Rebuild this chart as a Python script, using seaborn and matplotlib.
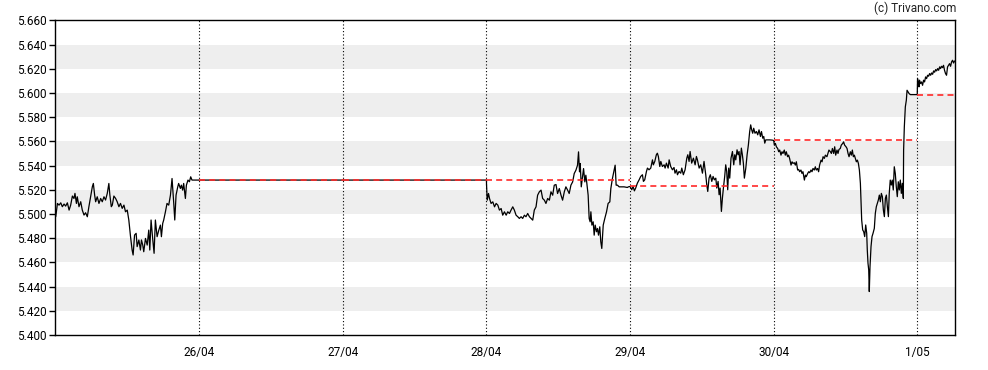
import numpy as np
import pandas as pd
import matplotlib
matplotlib.use("Agg")
import matplotlib.pyplot as plt
from matplotlib.ticker import FormatStrFormatter
import seaborn as sns

# ---------------- data ----------------
day_labels = ["26/04", "27/04", "28/04", "29/04", "30/04", "1/05"]
day_pos = [1, 2, 3, 4, 5, 6]

# 25/04 (day offset 0)
d25_frac = [0.000,0.012,0.023,0.035,0.046,0.058,0.069,0.081,0.093,0.104,0.116,0.127,0.134,0.144,0.150,0.162,0.174,0.185,0.197,0.208,
            0.220,0.231,0.243,0.255,0.262,0.271,0.278,0.289,0.301,0.313,0.324,0.336,0.347,0.359,0.370,0.377,0.387,0.394,0.405,0.417,
            0.428,0.440,0.451,0.463,0.475,0.486,0.498,0.509,0.521,0.532,0.539,0.549,0.560,0.567,0.579,0.590,0.597,0.606,0.613,0.625,
            0.637,0.648,0.655,0.664,0.676,0.685,0.694,0.706,0.718,0.729,0.736,0.745,0.752,0.764,0.775,0.787,0.799,0.810,0.822,0.829,
            0.838,0.850,0.856,0.868,0.875,0.884,0.891,0.903,0.910,0.921,0.931,0.940,0.949]
d25_price = [5.4977,5.5087,5.5073,5.5092,5.5060,5.5082,5.5065,5.5092,5.5032,5.5073,5.5148,5.5128,5.5170,5.5087,5.5142,5.5060,5.5101,5.5032,5.4991,5.5010,
             5.4977,5.5060,5.5142,5.5225,5.5252,5.5156,5.5101,5.5142,5.5087,5.5128,5.5101,5.5142,5.5115,5.5170,5.5252,5.5156,5.5060,5.5073,5.5148,5.5128,
             5.5101,5.5060,5.5087,5.5046,5.5073,5.5018,5.5032,5.4950,5.4812,5.4702,5.4661,5.4826,5.4840,5.4730,5.4785,5.4702,5.4785,5.4743,5.4688,5.4798,
             5.4743,5.4867,5.4702,5.4950,5.4785,5.4675,5.4950,5.4812,5.4867,5.4908,5.4812,5.4922,5.4950,5.5018,5.5087,5.5073,5.5156,5.5293,5.5087,5.4950,
             5.5156,5.5225,5.5252,5.5211,5.5238,5.5197,5.5252,5.5128,5.5238,5.5280,5.5266,5.5307,5.5280]

# last close carried over the weekend up to 28/04 00:00
carry_t = [3.0]
carry_price = [5.528]

# 28/04 (day offset 3)
d28_frac = [0.000,0.005,0.014,0.021,0.032,0.044,0.056,0.067,0.079,0.090,0.102,0.113,0.125,0.137,0.148,0.160,0.171,0.183,0.194,0.206,
            0.218,0.229,0.241,0.252,0.264,0.275,0.287,0.299,0.310,0.322,0.333,0.345,0.356,0.368,0.380,0.391,0.403,0.414,0.426,0.438,
            0.449,0.461,0.472,0.484,0.495,0.507,0.519,0.530,0.542,0.553,0.565,0.576,0.588,0.600,0.611,0.623,0.634,0.641,0.648,0.653,
            0.660,0.669,0.676,0.685,0.692,0.699,0.708,0.715,0.722,0.727,0.734,0.743,0.750,0.757,0.766,0.773,0.780,0.789,0.796,0.803,
            0.813,0.824,0.836,0.847,0.859,0.866,0.877,0.889,0.896,0.903,0.912,0.924,0.935,0.958,0.981,0.988]
d28_price = [5.5252,5.5114,5.5169,5.5128,5.5087,5.5100,5.5059,5.5087,5.5073,5.5032,5.5045,5.4990,5.5018,5.4990,5.5018,5.5004,5.5032,5.5059,5.5032,5.4990,
             5.4977,5.4963,5.4977,5.4963,5.4990,5.4977,5.5004,5.4977,5.4963,5.4949,5.5032,5.5059,5.5155,5.5183,5.5197,5.5128,5.5114,5.5087,5.5128,5.5114,
             5.5183,5.5155,5.5238,5.5243,5.5169,5.5210,5.5155,5.5114,5.5183,5.5224,5.5197,5.5169,5.5238,5.5265,5.5334,5.5362,5.5403,5.5513,5.5348,5.5417,
             5.5224,5.5307,5.5375,5.5265,5.5320,5.5252,5.5155,5.4963,5.4935,5.5018,5.4908,5.4935,5.4825,5.4908,5.4853,5.4880,5.4825,5.4894,5.4770,5.4715,
             5.4908,5.4963,5.5018,5.5087,5.5100,5.5210,5.5293,5.5362,5.5403,5.5238,5.5238,5.5224,5.5224,5.5224,5.5219,5.5224]

# 29/04 (day offset 4)
d29_frac = [0.000,0.012,0.021,0.030,0.039,0.051,0.063,0.074,0.086,0.093,0.102,0.114,0.121,0.132,0.144,0.156,0.162,0.172,0.183,0.190,
            0.197,0.207,0.214,0.225,0.237,0.244,0.253,0.265,0.272,0.283,0.295,0.306,0.313,0.323,0.330,0.341,0.353,0.360,0.371,0.383,
            0.395,0.402,0.411,0.418,0.429,0.441,0.453,0.462,0.469,0.481,0.492,0.504,0.515,0.527,0.534,0.541,0.550,0.559,0.569,0.578,
            0.587,0.597,0.604,0.613,0.620,0.627,0.636,0.643,0.650,0.659,0.666,0.673,0.680,0.687,0.694,0.703,0.713,0.722,0.729,0.736,
            0.745,0.752,0.759,0.766,0.775,0.782,0.789,0.796,0.806,0.815,0.824,0.833,0.840,0.847,0.854,0.861,0.870,0.880,0.889,0.898,
            0.908,0.915,0.924,0.931,0.938,0.945,0.956,0.973,0.991]
d29_price = [5.5227,5.5200,5.5227,5.5191,5.5214,5.5255,5.5282,5.5310,5.5324,5.5269,5.5282,5.5351,5.5379,5.5365,5.5379,5.5447,5.5406,5.5434,5.5489,5.5502,
             5.5475,5.5392,5.5434,5.5392,5.5406,5.5379,5.5420,5.5379,5.5447,5.5392,5.5365,5.5384,5.5337,5.5365,5.5324,5.5351,5.5337,5.5379,5.5324,5.5365,
             5.5461,5.5489,5.5434,5.5516,5.5420,5.5461,5.5406,5.5475,5.5447,5.5379,5.5406,5.5337,5.5434,5.5324,5.5241,5.5186,5.5296,5.5324,5.5269,5.5310,
             5.5282,5.5296,5.5214,5.5269,5.5159,5.5214,5.5021,5.5131,5.5214,5.5310,5.5406,5.5351,5.5200,5.5379,5.5296,5.5461,5.5516,5.5406,5.5489,5.5447,
             5.5530,5.5489,5.5516,5.5406,5.5544,5.5489,5.5420,5.5296,5.5379,5.5489,5.5571,5.5681,5.5736,5.5695,5.5667,5.5708,5.5667,5.5681,5.5654,5.5695,
             5.5640,5.5681,5.5626,5.5640,5.5585,5.5612,5.5612,5.5612,5.5610]

# 30/04 (day offset 5)
d30_frac = [0.000,0.005,0.012,0.019,0.028,0.035,0.042,0.051,0.058,0.065,0.074,0.081,0.088,0.097,0.104,0.111,0.121,0.128,0.135,0.144,
            0.151,0.158,0.167,0.174,0.181,0.190,0.197,0.204,0.214,0.221,0.227,0.237,0.244,0.251,0.260,0.267,0.274,0.283,0.290,0.297,
            0.306,0.313,0.320,0.330,0.337,0.344,0.353,0.360,0.371,0.378,0.385,0.395,0.402,0.409,0.418,0.425,0.432,0.441,0.448,0.455,
            0.464,0.471,0.481,0.487,0.494,0.504,0.511,0.518,0.525,0.534,0.541,0.548,0.555,0.562,0.569,0.576,0.583,0.590,0.597,0.604,
            0.608,0.613,0.620,0.627,0.634,0.641,0.648,0.652,0.657,0.662,0.666,0.671,0.678,0.685,0.692,0.701,0.708,0.715,0.722,0.729,
            0.736,0.743,0.750,0.757,0.764,0.771,0.778,0.785,0.792,0.799,0.805,0.812,0.819,0.826,0.833,0.840,0.847,0.854,0.861,0.868,
            0.875,0.882,0.889,0.896,0.903,0.905,0.910,0.917,0.924,0.929,0.936,0.943,0.952]
d30_price = [5.5607,5.5569,5.5583,5.5555,5.5541,5.5514,5.5528,5.5486,5.5514,5.5500,5.5528,5.5486,5.5514,5.5473,5.5486,5.5459,5.5404,5.5431,5.5418,5.5423,
             5.5404,5.5431,5.5363,5.5368,5.5349,5.5363,5.5335,5.5349,5.5280,5.5321,5.5308,5.5335,5.5349,5.5341,5.5363,5.5349,5.5376,5.5363,5.5390,5.5363,
             5.5376,5.5349,5.5404,5.5445,5.5431,5.5473,5.5459,5.5486,5.5473,5.5500,5.5528,5.5514,5.5500,5.5541,5.5500,5.5555,5.5486,5.5528,5.5500,5.5533,
             5.5541,5.5569,5.5583,5.5596,5.5569,5.5555,5.5541,5.5500,5.5473,5.5514,5.5486,5.5528,5.5473,5.5486,5.5459,5.5431,5.5445,5.5418,5.5363,5.5253,
             5.5115,5.4950,5.4868,5.4854,5.4813,5.4909,5.4840,5.4703,5.4593,5.4538,5.4359,5.4565,5.4730,5.4813,5.4840,5.4881,5.5005,5.5060,5.5088,5.5115,
             5.5156,5.5101,5.5170,5.5143,5.5033,5.4978,5.5129,5.5156,5.5060,5.4978,5.5170,5.5280,5.5239,5.5280,5.5198,5.5390,5.5335,5.5225,5.5143,5.5266,
             5.5198,5.5280,5.5170,5.5253,5.5129,5.5527,5.5720,5.5885,5.5940,5.6022,5.6008,5.5995,5.5986]

# 1/05 (day offset 6)
d01_frac = [0.000,0.002,0.007,0.012,0.016,0.023,0.030,0.037,0.044,0.051,0.058,0.065,0.072,0.079,0.086,0.093,0.100,0.107,0.114,0.121,
            0.128,0.135,0.142,0.149,0.156,0.162,0.169,0.176,0.183,0.190,0.197,0.204,0.211,0.218,0.225,0.232,0.239,0.246,0.253,0.260]
d01_price = [5.5986,5.6118,5.6091,5.6050,5.6105,5.6077,5.6091,5.6063,5.6105,5.6091,5.6132,5.6118,5.6146,5.6138,5.6160,5.6146,5.6165,5.6154,5.6182,5.6171,
             5.6193,5.6182,5.6201,5.6187,5.6215,5.6201,5.6220,5.6209,5.6228,5.6187,5.6160,5.6146,5.6215,5.6228,5.6242,5.6220,5.6256,5.6270,5.6247,5.6264]

# previous close reference lines per day (26/04 .. 1/05)
prev_close = [5.528, 5.528, 5.528, 5.523, 5.561, 5.5986]

y_ticks = [5.400, 5.420, 5.440, 5.460, 5.480, 5.500, 5.520, 5.540, 5.560,
           5.580, 5.600, 5.620, 5.640, 5.660]
band_lows = [5.420, 5.460, 5.500, 5.540, 5.580, 5.620]

# ---------------- build table ----------------
rows = []
def add_day(offset, fr, pr):
    for f, p in zip(fr, pr):
        rows.append((offset + f, p))

add_day(0, d25_frac, d25_price)
for t, p in zip(carry_t, carry_price):
    rows.append((t, p))
add_day(3, d28_frac, d28_price)
add_day(4, d29_frac, d29_price)
add_day(5, d30_frac, d30_price)
add_day(6, d01_frac, d01_price)
df = pd.DataFrame(rows, columns=["t", "price"])

# ---------------- plot ----------------
sns.set_style("white")
plt.rcParams["font.family"] = ["Roboto", "DejaVu Sans"]

W, H = 988, 370
fig = plt.figure(figsize=(W / 100, H / 100), dpi=100)
ax = fig.add_axes([55.3 / W, 1 - 335.0 / H, 900.0 / W, 314.7 / H])

x_left, x_right = -0.003, 6.265
ax.set_xlim(x_left, x_right)
ax.set_ylim(5.40, 5.66)

for lo in band_lows:
    ax.axhspan(lo, lo + 0.02, color="#eeeeee", lw=0, zorder=0)

for d in day_pos:
    ax.axvline(d, color="black", lw=0.8, ls=(0, (1, 2)), zorder=1)

sns.lineplot(data=df, x="t", y="price", sort=False, estimator=None,
             color="black", lw=0.9, ax=ax, zorder=3)

for i, d in enumerate(day_pos):
    end = d + 1 if i < len(day_pos) - 1 else x_right
    ax.plot([d, end], [prev_close[i], prev_close[i]], color="#ff2a2a",
            lw=1.2, ls=(0, (3.6, 2.5)), zorder=4)

ax.set_yticks(y_ticks)
ax.yaxis.set_major_formatter(FormatStrFormatter("%.3f"))
ax.set_xticks(day_pos)
ax.set_xticklabels(day_labels)
ax.set_xlabel("")
ax.set_ylabel("")
ax.tick_params(axis="y", left=True, length=4.5, width=1, pad=1.5,
               labelsize=8.5, colors="black")
ax.tick_params(axis="x", bottom=False, length=0, pad=8,
               labelsize=8.5, colors="black")
for s in ax.spines.values():
    s.set_visible(True)
    s.set_color("black")
    s.set_linewidth(1)

fig.text(956.7 / W, 1 - 8.5 / H, "(c) Trivano.com", ha="right", va="center",
         fontsize=8.5, color="#222222")

fig.savefig("out.png", dpi=100)
